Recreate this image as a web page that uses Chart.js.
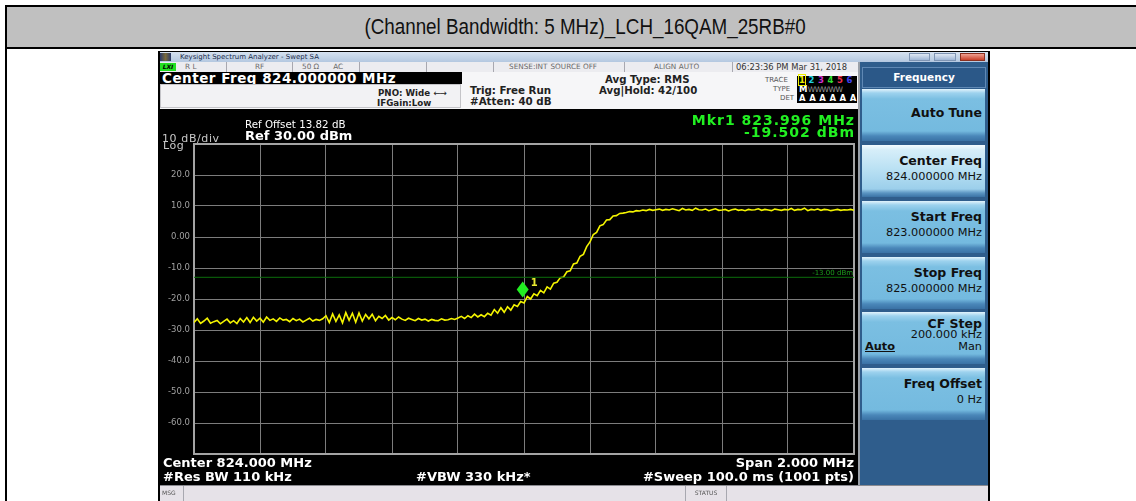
<!DOCTYPE html>
<html>
<head>
<meta charset="utf-8">
<script src="https://cdn.jsdelivr.net/npm/chart.js@4.4.1/dist/chart.umd.min.js"></script>
<style>
  body { margin:0; width:1136px; height:501px; overflow:hidden; background:#fff; position:relative;
         font-family:"DejaVu Sans", Verdana, sans-serif; }
  .a { position:absolute; white-space:nowrap; }
  .b { font-weight:bold; }
  .btn { position:absolute; left:862px; width:123px; height:52px;
         background:linear-gradient(#e2f3fc 0px, #9dd2ee 4px, #7bbfe2 10px, #74badf 42px, #4a87b9 47px, #3a72a5 52px); }
  .btn .t { position:absolute; right:3px; top:8px; font-weight:bold; font-size:12.5px; color:#101010; }
  .btn .v { position:absolute; right:3px; top:25px; font-size:11.3px; color:#101010; }
  .cell { position:absolute; top:62px; height:10px; border-right:1px solid #a8a8b0; font-size:7.3px; color:#6a6a6a; line-height:10px; }
</style>
</head>
<body>
<!-- outer table -->
<div class="a" style="left:5px;top:5px;width:1200px;height:600px;border-left:2px solid #000;border-top:2px solid #000;"></div>
<div class="a" style="left:7px;top:7px;width:1200px;height:40px;background:#c0c0c0;border-bottom:2px solid #000;"></div>
<div class="a" style="left:0px;top:14px;width:1170px;text-align:center;font-family:'Liberation Sans',Arial,sans-serif;font-size:22px;color:#111;">
  <span style="display:inline-block;transform:scaleX(0.855);">(Channel Bandwidth: 5 MHz)_LCH_16QAM_25RB#0</span>
</div>

<!-- analyzer window -->
<div class="a" style="left:158px;top:51px;width:832px;height:460px;background:#000;"></div>
<div class="a" style="left:160px;top:52px;width:828px;height:10px;background:linear-gradient(#d6e2f0,#b4c8e0);"></div>
<div class="a" style="left:160px;top:53px;width:11px;height:8px;background:linear-gradient(90deg,#2a3a6a,#7a6a3a,#2a3a6a);"></div>
<div class="a" style="left:180px;top:52px;font-size:7px;line-height:10px;color:#1a2a4a;">Keysight Spectrum Analyzer - Swept SA</div>
<div class="a" style="left:909px;top:53px;width:21px;height:8px;background:linear-gradient(#dfe8f4,#9fb6d6);border:1px solid #7f95b4;box-sizing:border-box;"></div>
<div class="a" style="left:934px;top:53px;width:22px;height:8px;background:linear-gradient(#dfe8f4,#9fb6d6);border:1px solid #7f95b4;box-sizing:border-box;"></div>
<div class="a" style="left:960px;top:53px;width:25px;height:8px;background:linear-gradient(#f0a090,#c8402a);border:1px solid #8a3020;box-sizing:border-box;"></div>

<!-- status row -->
<div class="a" style="left:160px;top:62px;width:698px;height:10px;background:#ececf0;"></div>
<div class="a" style="left:160px;top:63px;width:16px;height:8px;background:#22e022;font-size:6px;line-height:8px;font-style:italic;font-weight:bold;color:#000;text-align:center;">LXI</div>
<div class="cell" style="left:177px;width:49px;"><span style="margin-left:8px">R L</span></div>
<div class="cell" style="left:227px;width:65px;"><span style="margin-left:28px">RF</span></div>
<div class="cell" style="left:293px;width:66px;"><span style="margin-left:9px">50 Ω</span><span style="margin-left:14px">AC</span></div>
<div class="cell" style="left:360px;width:66px;"></div>
<div class="cell" style="left:427px;width:66px;"></div>
<div class="cell" style="left:494px;width:130px;"><span style="margin-left:15px">SENSE:INT</span><span style="margin-left:3px">SOURCE OFF</span></div>
<div class="cell" style="left:625px;width:107px;"><span style="margin-left:29px">ALIGN AUTO</span></div>
<div class="cell" style="left:733px;width:124px;border-right:none;color:#333;font-size:8.4px;"><span style="margin-left:3px">06:23:36 PM Mar 31, 2018</span></div>

<!-- info block -->
<div class="a" style="left:160px;top:72px;width:698px;height:37px;background:#f6f6f8;"></div>
<div class="a b" style="left:160px;top:72px;width:302px;height:12px;background:#000;color:#fff;font-size:13.5px;letter-spacing:0.5px;line-height:12px;padding-left:2px;box-sizing:border-box;overflow:hidden;">Center Freq 824.000000 MHz</div>
<div class="a" style="left:160px;top:84px;width:301px;height:24px;background:#f2f2f4;border:1px solid #c4c4c8;box-sizing:border-box;"></div>
<div class="a b" style="left:378px;top:88px;font-size:8.7px;color:#222;">PNO: Wide <span style="font-weight:normal;letter-spacing:-1px">←→</span></div>
<div class="a b" style="left:377px;top:98px;font-size:8.7px;color:#222;">IFGain:Low</div>
<div class="a b" style="left:470px;top:84px;font-size:10.3px;color:#222;">Trig: Free Run</div>
<div class="a b" style="left:470px;top:95px;font-size:10.3px;color:#222;">#Atten: 40 dB</div>
<div class="a b" style="left:605px;top:74px;font-size:10.2px;color:#222;">Avg Type: RMS</div>
<div class="a b" style="left:599px;top:85px;font-size:10.2px;color:#222;">Avg|Hold: 42/100</div>
<div class="a" style="left:765px;top:76px;font-size:7px;color:#555;">TRACE</div>
<div class="a" style="left:773px;top:85px;font-size:7px;color:#555;">TYPE</div>
<div class="a" style="left:780px;top:94px;font-size:7px;color:#555;">DET</div>
<div class="a b" style="left:797px;top:76px;width:60px;height:27px;background:#000;font-size:8.5px;line-height:9px;padding-left:2px;box-sizing:border-box;letter-spacing:0.3px;">
  <span style="color:#f0f000;outline:1px solid #f0f000;">1</span> <span style="color:#20d0e0">2</span> <span style="color:#d030d0">3</span> <span style="color:#30e030">4</span> <span style="color:#f03050">5</span> <span style="color:#4040f0">6</span><br>
  <span style="color:#fff">M</span><span style="color:#999;font-weight:normal;font-size:7.5px;letter-spacing:-0.5px">WWWWW</span><br>
  <span style="color:#fff">A A A A A A</span>
</div>

<!-- screen area -->
<div class="a" style="left:160px;top:109px;width:698px;height:376px;background:#000;"></div>
<div class="a" style="left:858px;top:62px;width:2px;height:423px;background:#9aa0a8;"></div>
<canvas id="spectrum" class="a" width="698" height="378" style="left:160px;top:108px;"></canvas>

<div class="a" style="left:245px;top:118px;font-size:10.3px;color:#fff;">Ref Offset 13.82 dB</div>
<div class="a b" style="left:245px;top:128px;font-size:13px;color:#fff;">Ref 30.00 dBm</div>
<div class="a" style="left:162px;top:132px;font-size:11px;letter-spacing:0.6px;color:#c8c8c8;">10 dB/div</div>
<div class="a" style="left:163px;top:140px;font-size:11px;letter-spacing:0.6px;color:#c8c8c8;line-height:11px;">Log</div>
<div class="a b" style="right:281px;top:114px;font-size:14px;letter-spacing:1px;color:#22f022;line-height:12px;text-align:right;">Mkr1 823.996 MHz<br>-19.502 dBm</div>

<div class="a b" style="left:163px;top:455px;font-size:13px;color:#fff;">Center 824.000 MHz</div>
<div class="a b" style="left:163px;top:469px;font-size:13px;color:#fff;">#Res BW 110 kHz</div>
<div class="a b" style="left:416px;top:469px;font-size:13px;color:#fff;">#VBW 330 kHz*</div>
<div class="a b" style="right:282px;top:455px;font-size:13px;color:#fff;">Span 2.000 MHz</div>
<div class="a b" style="right:282px;top:469px;font-size:13px;color:#fff;">#Sweep&nbsp;100.0 ms (1001 pts)</div>

<!-- softkey panel -->
<div class="a" style="left:860px;top:62px;width:128px;height:423px;background:#2f5d8c;"></div>
<div class="a b" style="left:862px;top:67px;width:124px;height:21px;background:#2b5888;border:1px solid #5f88b4;box-sizing:border-box;color:#fff;font-size:10.5px;line-height:19px;text-align:center;">Frequency</div>
<div class="btn" style="top:89px;"><div class="t" style="top:16px;">Auto Tune</div></div>
<div class="btn" style="top:145px;background:linear-gradient(#f4fbff 0px, #d6eef9 5px, #b8e0f3 25px, #9ccfeb 44px, #5a94c2 48px, #3a72a5 52px);"><div class="t">Center Freq</div><div class="v">824.000000 MHz</div></div>
<div class="btn" style="top:201px;"><div class="t">Start Freq</div><div class="v">823.000000 MHz</div></div>
<div class="btn" style="top:257px;"><div class="t">Stop Freq</div><div class="v">825.000000 MHz</div></div>
<div class="btn" style="top:312px;"><div class="t" style="top:4px;">CF Step</div><div class="v" style="top:16px;">200.000 kHz</div><div class="v" style="top:28px;">Man</div><div class="v" style="top:28px;left:3px;right:auto;font-weight:bold;text-decoration:underline;">Auto</div></div>
<div class="btn" style="top:368px;"><div class="t">Freq Offset</div><div class="v">0 Hz</div></div>

<!-- message bar -->
<div class="a" style="left:160px;top:485px;width:828px;height:16px;background:#e6e2e8;border-top:1px solid #8a8a90;"></div>
<div class="a" style="left:160px;top:486px;width:24px;height:15px;border-right:1px solid #a8a8b0;font-size:6px;line-height:14px;color:#555;padding-left:2px;box-sizing:border-box;">MSG</div>
<div class="a" style="left:685px;top:486px;width:40px;height:15px;border-left:1px solid #a8a8b0;border-right:1px solid #a8a8b0;font-size:6px;line-height:14px;color:#555;text-align:center;">STATUS</div>

<script>
// sweep settings
const startFreq = 823.0;
const stopFreq = 825.0;
const refLevel = 30;
const bottomLevel = -70;
const dbPerDiv = 10;
const freqPerDiv = 0.2;

// trace 1 (dBm), one value every 10 kHz from 823.00 to 825.00 MHz
const traceDbm = [
  -27.6, -26.4, -27.9, -27.1, -26.2, -27.8, -27.3, -26.9, -28.0, -27.2,
  -26.5, -27.7, -27.0, -27.9, -26.3, -27.4, -26.0, -27.6, -25.9, -27.1,
  -26.2, -27.5, -25.8, -26.9, -26.4, -27.2, -26.1, -26.8, -26.6, -27.3,
  -26.3, -27.0, -26.5, -27.4, -26.8, -26.2, -27.1, -26.6, -26.9, -26.4,
  -25.4, -27.6, -24.8, -27.2, -25.1, -27.7, -24.4, -26.9, -24.6, -27.5,
  -24.5, -27.1, -25.0, -26.4, -24.9, -27.0, -25.6, -26.3, -25.3, -26.8,
  -26.0, -26.7, -25.8, -26.5, -26.9, -26.2, -26.6, -27.0, -26.3, -26.8,
  -26.5, -27.1, -26.6, -26.9, -27.0, -26.4, -26.8, -26.7, -26.3, -26.6,
  -26.1, -25.6, -26.3, -25.4, -26.0, -24.9, -25.8, -25.1, -25.7, -24.6,
  -25.2, -23.4, -24.6, -22.8, -24.3, -22.5, -23.6, -21.9, -22.4, -20.8,
  -21.3, -19.2, -20.0, -18.3, -18.9, -17.2, -18.0, -16.1, -16.8, -14.9,
  -14.6, -13.1, -12.9, -11.2, -10.9, -8.7, -8.4, -6.2, -5.6, -3.1,
  -1.6, 0.8, 1.5, 3.6, 4.0, 5.5, 5.6, 6.8, 6.9, 7.6,
  7.7, 7.9, 8.2, 8.1, 8.5, 8.4, 8.7, 8.5, 8.9, 8.6,
  8.8, 9.0, 8.6, 8.9, 8.7, 9.1, 8.8, 8.5, 9.2, 8.7,
  8.9, 8.6, 9.3, 8.8, 8.7, 9.0, 8.5, 8.8, 9.1, 8.6,
  8.7, 8.9, 8.4, 8.8, 9.0, 8.6, 8.8, 8.5, 8.9, 8.7,
  8.8, 9.1, 8.6, 8.9, 8.7, 8.5, 9.0, 8.8, 8.6, 8.9,
  8.7, 9.2, 8.6, 8.9, 8.8, 9.3, 8.5, 8.9, 8.7, 9.0,
  8.6, 8.9, 8.8, 8.5, 8.7, 8.9, 8.6, 8.8, 8.7, 8.9,
  8.6
];

// display line and marker
const limitDbm = -13;
const limitLabel = '-13.00 dBm';
const markerFreq = 823.996;
const markerDbm = -19.502;
const markerName = '1';

const tracePoints = traceDbm.map((v, i) => ({
  x: startFreq + i * (stopFreq - startFreq) / (traceDbm.length - 1),
  y: v
}));

const screenPlugin = {
  id: 'screen',
  beforeDatasetsDraw(chart) {
    const { ctx, chartArea: a } = chart;
    ctx.save();
    ctx.strokeStyle = '#a4a4a4';
    ctx.lineWidth = 2;
    ctx.strokeRect(a.left, a.top, a.right - a.left, a.bottom - a.top);
    ctx.restore();
  },
  afterDatasetsDraw(chart) {
    const { ctx, chartArea: a, scales } = chart;
    ctx.save();
    // display line label
    ctx.fillStyle = '#1c9a1c';
    ctx.font = '7px "DejaVu Sans", sans-serif';
    ctx.textAlign = 'right';
    ctx.textBaseline = 'bottom';
    ctx.fillText(limitLabel, a.right - 1, scales.y.getPixelForValue(limitDbm) - 1);
    // marker diamond sits on top of the trace point
    const mx = scales.x.getPixelForValue(markerFreq);
    const my = scales.y.getPixelForValue(markerDbm);
    ctx.fillStyle = '#22ee22';
    ctx.beginPath();
    ctx.moveTo(mx, my);
    ctx.lineTo(mx + 6, my - 8);
    ctx.lineTo(mx, my - 16);
    ctx.lineTo(mx - 6, my - 8);
    ctx.closePath();
    ctx.fill();
    ctx.fillStyle = '#e8e830';
    ctx.font = 'bold 10px "DejaVu Sans", sans-serif';
    ctx.textAlign = 'left';
    ctx.fillText(markerName, mx + 8, my - 9);
    ctx.restore();
  }
};

new Chart(document.getElementById('spectrum'), {
  type: 'line',
  data: {
    datasets: [
      {
        data: [{ x: startFreq, y: limitDbm }, { x: stopFreq, y: limitDbm }],
        borderColor: '#0c6e0c',
        borderWidth: 1,
        pointRadius: 0
      },
      {
        data: tracePoints,
        borderColor: '#f4f400',
        borderWidth: 1.6,
        pointRadius: 0,
        tension: 0
      }
    ]
  },
  options: {
    responsive: false,
    animation: false,
    events: [],
    layout: { padding: { left: 0, top: 36, right: 4, bottom: 32 } },
    plugins: { legend: { display: false }, tooltip: { enabled: false } },
    scales: {
      x: {
        type: 'linear',
        min: startFreq,
        max: stopFreq,
        afterFit(scale) { scale.height = 0; },
        afterBuildTicks(scale) {
          const t = [];
          for (let k = 0; k <= 10; k++) t.push({ value: startFreq + k * freqPerDiv });
          scale.ticks = t;
        },
        ticks: { display: false },
        grid: { color: '#7c7c7c', lineWidth: 1, drawTicks: false },
        border: { display: false }
      },
      y: {
        min: bottomLevel,
        max: refLevel,
        afterFit(scale) { scale.width = 34; },
        ticks: {
          stepSize: dbPerDiv,
          padding: 4,
          color: '#a0a0a0',
          font: { size: 8.5, family: '"DejaVu Sans", sans-serif' },
          callback(v) {
            if (v === refLevel || v === bottomLevel) return '';
            if (v === 0) return '0.00';
            return v.toFixed(1);
          }
        },
        grid: { color: '#7c7c7c', lineWidth: 1, drawTicks: false },
        border: { display: false }
      }
    }
  },
  plugins: [screenPlugin]
});
</script>
</body>
</html>
